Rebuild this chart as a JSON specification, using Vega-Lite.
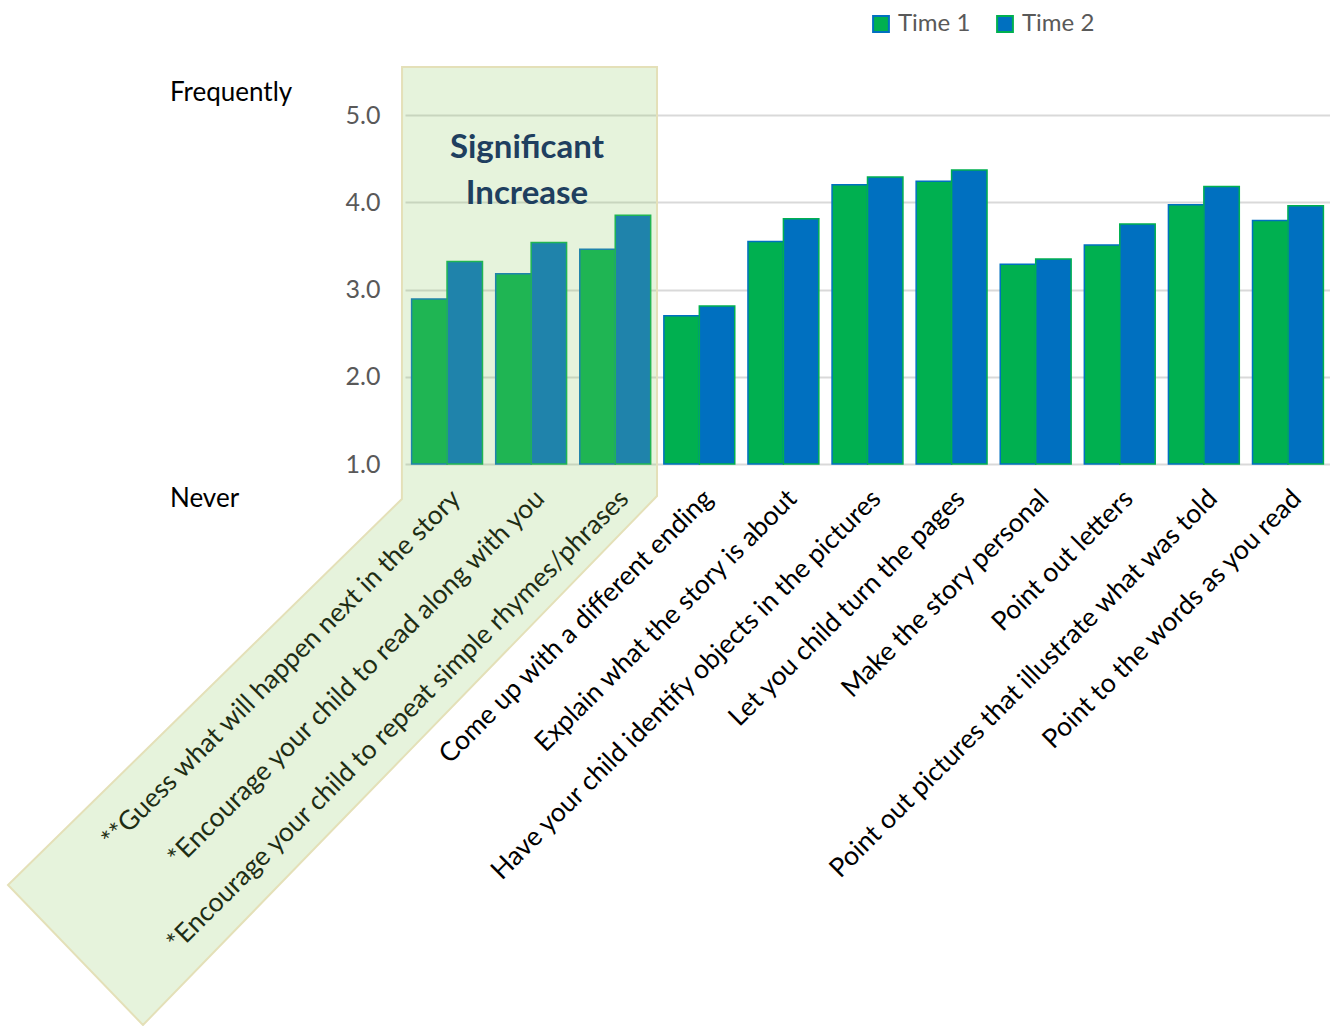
{
  "$schema": "https://vega.github.io/schema/vega-lite/v6.json",
  "autosize": {"type": "none"},
  "padding": {"left": 405, "top": 115, "right": 0, "bottom": 562},
  "width": 925,
  "height": 349,
  "config": {"font": "Lato", "view": {"stroke": null}},
  "datasets": {
    "bars": [
      {"item": "**Guess what will happen next in the story", "series": "Time 1", "value": 2.89},
      {"item": "**Guess what will happen next in the story", "series": "Time 2", "value": 3.32},
      {"item": "*Encourage your child to read along with you", "series": "Time 1", "value": 3.18},
      {"item": "*Encourage your child to read along with you", "series": "Time 2", "value": 3.54},
      {"item": "*Encourage your child to repeat simple rhymes/phrases", "series": "Time 1", "value": 3.46},
      {"item": "*Encourage your child to repeat simple rhymes/phrases", "series": "Time 2", "value": 3.85},
      {"item": "Come up with a different ending", "series": "Time 1", "value": 2.70},
      {"item": "Come up with a different ending", "series": "Time 2", "value": 2.81},
      {"item": "Explain what the story is about", "series": "Time 1", "value": 3.55},
      {"item": "Explain what the story is about", "series": "Time 2", "value": 3.81},
      {"item": "Have your child identify objects in the pictures", "series": "Time 1", "value": 4.20},
      {"item": "Have your child identify objects in the pictures", "series": "Time 2", "value": 4.29},
      {"item": "Let you child turn the pages", "series": "Time 1", "value": 4.24},
      {"item": "Let you child turn the pages", "series": "Time 2", "value": 4.37},
      {"item": "Make the story personal", "series": "Time 1", "value": 3.29},
      {"item": "Make the story personal", "series": "Time 2", "value": 3.35},
      {"item": "Point out letters", "series": "Time 1", "value": 3.51},
      {"item": "Point out letters", "series": "Time 2", "value": 3.75},
      {"item": "Point out pictures that illustrate what was told", "series": "Time 1", "value": 3.97},
      {"item": "Point out pictures that illustrate what was told", "series": "Time 2", "value": 4.18},
      {"item": "Point to the words as you read", "series": "Time 1", "value": 3.79},
      {"item": "Point to the words as you read", "series": "Time 2", "value": 3.96}
    ],
    "poly": [
      {"pos": -4.721, "value": -3.825, "value2": -3.825},
      {"pos": -3.116, "value": -2.309, "value2": -5.43},
      {"pos": -0.037, "value": 0.599, "value2": -2.376},
      {"pos": -0.035, "value": 5.55, "value2": -2.374},
      {"pos": 2.997, "value": 5.55, "value2": 0.633}
    ],
    "notes": [
      {"pos": -2.795, "value": 5.16, "note": "Frequently"},
      {"pos": -2.795, "value": 0.507, "note": "Never"}
    ],
    "headline": [
      {"pos": 1.45, "value": 4.507, "note": "Significant\nIncrease"}
    ]
  },
  "encoding": {
    "y": {
      "field": "value", "type": "quantitative",
      "scale": {"domain": [1, 5], "nice": false, "zero": false},
      "axis": {
        "title": null, "values": [1, 2, 3, 4, 5], "format": ".1f", "labelFontSize": 25,
        "labelColor": "#595959", "ticks": false, "domain": false, "labelPadding": 25,
        "gridColor": "#d9d9d9", "gridWidth": 2
      }
    }
  },
  "layer": [
    {
      "data": {"name": "bars"},
      "mark": {"type": "bar", "strokeWidth": 1.5},
      "encoding": {
        "x": {
          "field": "item", "type": "nominal", "sort": null,
          "scale": {"paddingInner": 0.157, "paddingOuter": 0.0785},
          "axis": {
            "title": null, "labelAngle": -45, "labelFontSize": 26.5, "labelColor": "#000000",
            "labelLimit": 900, "labelOverlap": false, "labelBound": false, "ticks": false,
            "domain": false, "labelPadding": 21
          }
        },
        "xOffset": {"field": "series", "type": "nominal", "sort": ["Time 1", "Time 2"]},
        "y2": {"datum": 1},
        "fill": {
          "field": "series", "type": "nominal",
          "scale": {"domain": ["Time 1", "Time 2"], "range": ["#00B050", "#0070C0"]},
          "legend": {
            "title": null, "orient": "none", "legendX": 464, "legendY": -103, "direction": "horizontal",
            "symbolType": "square", "symbolSize": 250, "symbolStrokeWidth": 2, "labelFontSize": 24,
            "labelColor": "#595959", "columnPadding": 22, "labelOffset": 5
          }
        },
        "stroke": {
          "field": "series", "type": "nominal",
          "scale": {"domain": ["Time 1", "Time 2"], "range": ["#0070C0", "#00B050"]},
          "legend": {
            "title": null, "orient": "none", "legendX": 464, "legendY": -103, "direction": "horizontal",
            "symbolType": "square", "symbolSize": 250, "symbolStrokeWidth": 2, "labelFontSize": 24,
            "labelColor": "#595959", "columnPadding": 22, "labelOffset": 5
          }
        }
      }
    },
    {
      "data": {"name": "poly"},
      "mark": {"type": "area", "fill": "#8FC85F", "fillOpacity": 0.22, "stroke": "#e4e0b8", "strokeWidth": 2, "clip": false},
      "encoding": {
        "x": {"field": "pos", "type": "quantitative", "scale": {"domain": [0, 11], "nice": false, "zero": false}, "axis": null},
        "y2": {"field": "value2"}
      }
    },
    {
      "data": {"name": "notes"},
      "mark": {"type": "text", "align": "left", "baseline": "alphabetic", "fontSize": 26, "color": "#000000"},
      "encoding": {
        "x": {"field": "pos", "type": "quantitative", "scale": {"domain": [0, 11], "nice": false, "zero": false}, "axis": null},
        "text": {"field": "note"}
      }
    },
    {
      "data": {"name": "headline"},
      "mark": {"type": "text", "align": "center", "baseline": "alphabetic", "fontSize": 33, "fontWeight": "bold", "color": "#1F3F5F", "lineBreak": "\n", "lineHeight": 46},
      "encoding": {
        "x": {"field": "pos", "type": "quantitative", "scale": {"domain": [0, 11], "nice": false, "zero": false}, "axis": null},
        "text": {"field": "note"}
      }
    }
  ],
  "resolve": {"scale": {"x": "independent"}, "axis": {"x": "independent"}}
}
